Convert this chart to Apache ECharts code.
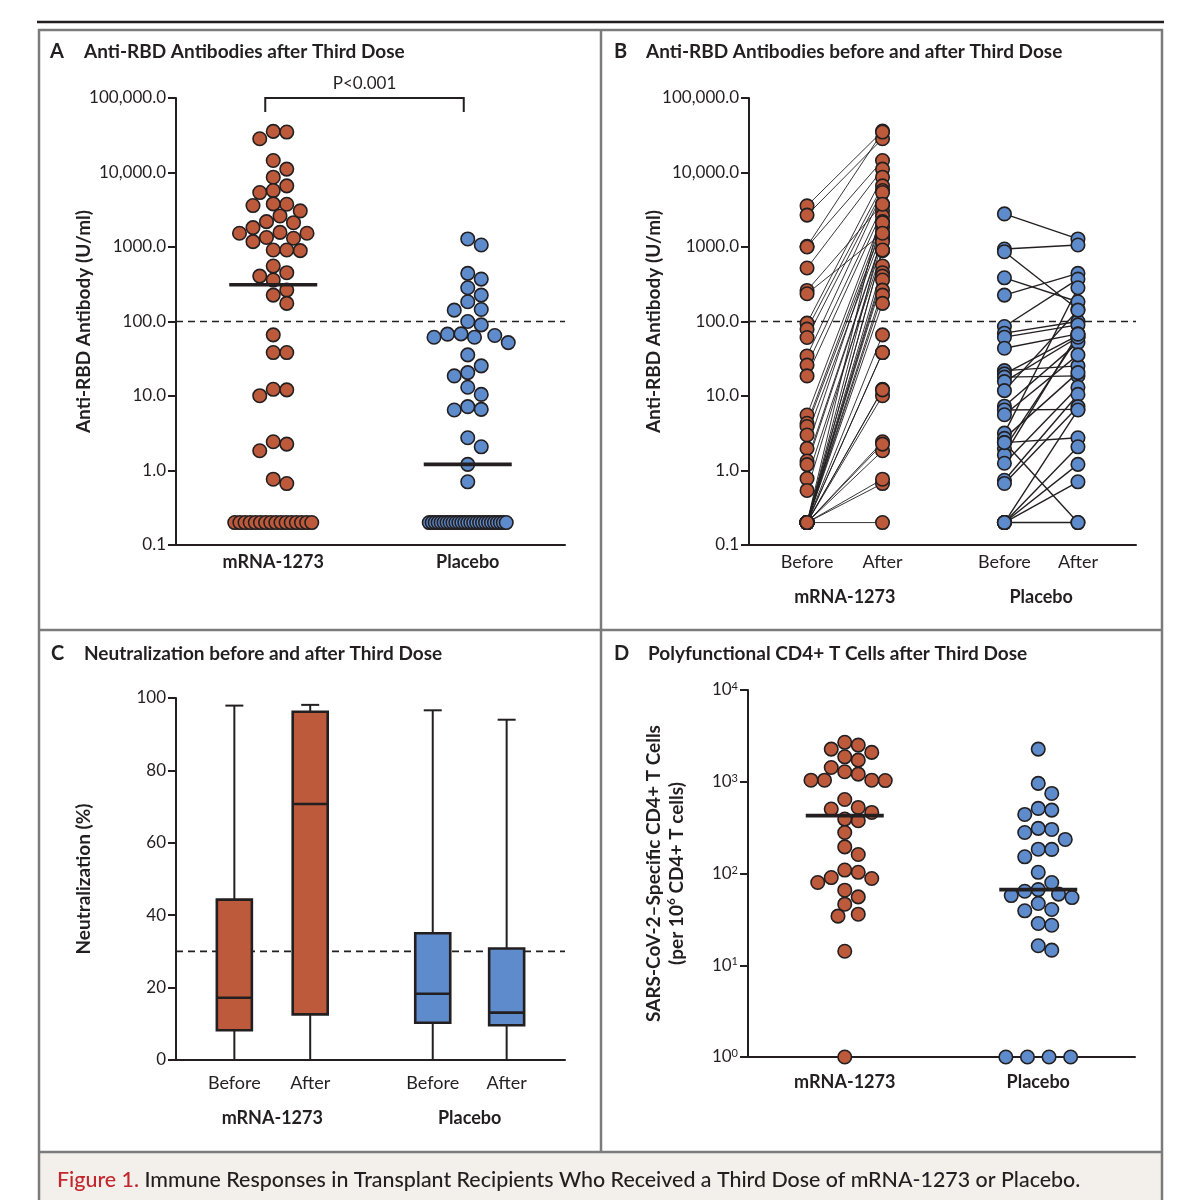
<!DOCTYPE html>
<html><head><meta charset="utf-8">
<script src="https://cdn.jsdelivr.net/npm/echarts@6/dist/echarts.min.js"></script>
<style>html,body{margin:0;padding:0;background:#fff}#c{width:1184px;height:1200px}</style>
</head><body><div id="c"></div>
<script>
// ================= DATA =================
const groupLabels = ['mRNA-1273', 'Placebo'];
const phaseLabels = ['Before', 'After', 'Before', 'After'];
const abTickLabels = ['0.1', '1.0', '10.0', '100.0', '1000.0', '10,000.0', '100,000.0']; // 10^-1 .. 10^5
const abThreshold = 100;
const pValueText = 'P<0.001';

// Panel A: anti-RBD antibodies after third dose (U/ml)
const aMrna = [35600, 28400, 34900, 14500, 11100, 8650, 6620, 5380, 5720, 3750, 3050, 3600, 3790,
  2610, 2120, 1820, 2190, 1530, 1310, 1570, 1180, 1340, 1530, 912, 893, 912, 452, 360, 407, 555,
  264, 226, 175, 66.2, 38.3, 38.3, 12.3, 10.1, 12.1, 2.43, 1.84, 2.26, 0.668, 0.764,
  0.2, 0.2, 0.2, 0.2, 0.2, 0.2, 0.2, 0.2, 0.2, 0.2, 0.2, 0.2, 0.2, 0.2, 0.2, 0.2];
const aPlacebo = [1064, 1282, 371, 443, 284, 226, 184, 145, 142, 90, 100, 67.6, 61.5, 52.1, 61.5,
  64.9, 68.2, 35.6, 25.4, 18.6, 20.6, 10.5, 13.1, 7.19, 6.49, 6.62, 2.75, 2.08, 1.21, 0.705,
  0.2, 0.2, 0.2, 0.2, 0.2, 0.2, 0.2, 0.2, 0.2, 0.2, 0.2, 0.2, 0.2, 0.2, 0.2, 0.2, 0.2, 0.2,
  0.2, 0.2, 0.2, 0.2, 0.2, 0.2, 0.2, 0.2, 0.2];

// Panel B: paired before / after values (U/ml)
const bMrnaBefore = [3570, 2680, 1024, 1000, 522, 261, 236, 95, 79, 61, 34.5, 26, 18.6, 5.55, 4.3,
  3.9, 3.0, 1.98, 1.34, 1.2, 0.78, 0.54,
  0.2, 0.2, 0.2, 0.2, 0.2, 0.2, 0.2, 0.2, 0.2, 0.2, 0.2, 0.2, 0.2, 0.2, 0.2, 0.2, 0.2, 0.2, 0.2, 0.2, 0.2, 0.2, 0.2];
const bMrnaAfter = [35900, 28400, 34900, 14500, 11100, 3790, 1530, 8650, 6620, 5720, 5380, 3600, 3050,
  2610, 2190, 1820, 1570, 2120, 1340, 1310, 912, 1180,
  3750, 893, 1530, 912, 555, 452, 407, 360, 264, 226, 175, 66.2, 38.3, 38.3, 12.3, 10.1, 12.1,
  2.43, 1.84, 2.26, 0.668, 0.764, 0.2];
const bPlaceboBefore = [2780, 940, 865, 386, 226, 85.6, 69.7, 61.6, 43.8, 21.9, 19.8, 17.9, 15.6,
  11.8, 7.3, 6.5, 5.6, 3.17, 2.7, 2.37, 1.98, 1.62, 1.25, 0.74, 0.67, 2.37, 0.2, 0.2, 0.2, 0.2, 0.2];
const bPlaceboAfter = [1282, 1064, 145, 184, 443, 371, 100, 90, 68.2, 25.4, 64.9, 18.6, 61.5,
  142, 52.1, 6.62, 35.6, 284, 20.6, 2.75, 61.5, 67.6, 13.1, 10.5, 7.19, 0.2, 6.49, 2.08, 1.21, 0.705, 0.2];

// Panel C: neutralization (%) — [min, Q1, median, Q3, max]
const cMrnaBefore = [0, 8.2, 17.2, 44.3, 97.9];
const cMrnaAfter = [0, 12.6, 70.7, 96.2, 98.1];
const cPlaceboBefore = [0, 10.3, 18.3, 35.0, 96.6];
const cPlaceboAfter = [0, 9.6, 13.1, 30.8, 94.0];
const cThreshold = 30;

// Panel D: polyfunctional CD4+ T cells per 10^6 CD4+ T cells
const dMrna = [2510, 2090, 2690, 1870, 2270, 1720, 1430, 1210, 1040, 1030, 1040, 1040, 1285, 641,
  525, 463, 376, 392, 504, 280, 195, 161, 103, 79.8, 88.2, 90.3, 109, 55.6, 65.8, 46.3, 34.3, 36, 14.2, 1];
const dPlacebo = [2270, 960, 746, 512, 440, 491, 310, 280, 302, 235, 184, 152, 183, 103, 79.8, 64.1,
  66.8, 57.5, 47.1, 54.7, 59.6, 39.2, 40.5, 27.3, 28.5, 14.6, 16.3, 1, 1, 1, 1];

// ================= LAYOUT / STYLE =================
const FONT = 'Lato, "Open Sans", sans-serif';
const INK = '#231f20';
const RED = '#bd5a3c';
const BLUE = '#5e8bcb';
const FRAME = '#7b7b7b';
const DOT = 13.5;
const G = {
  A: {left: 176, top: 98, width: 389, height: 447},
  B: {left: 749, top: 98, width: 387, height: 447},
  C: {left: 176, top: 698, width: 389, height: 362},
  D: {left: 748, top: 690, width: 387, height: 367}
};
const groupPos = [2.5, 7.5];
const phasePos = [1.5, 3.45, 6.6, 8.5];
const groupMid = [(phasePos[0] + phasePos[1]) / 2, (phasePos[2] + phasePos[3]) / 2];

function median(arr) {
  const s = arr.slice().sort((a, b) => a - b);
  const n = s.length;
  return n % 2 ? s[(n - 1) / 2] : (s[n / 2 - 1] + s[n / 2]) / 2;
}
function nearestIdx(list, v) {
  let best = 0;
  list.forEach((x, i) => { if (Math.abs(x - v) < Math.abs(list[best] - v)) best = i; });
  return best;
}
function logPx(v, lo, hi, h) {
  return (Math.log10(hi) - Math.log10(v)) / (Math.log10(hi) - Math.log10(lo)) * h;
}
// simple beeswarm: returns [x, value] pairs
function swarm(values, center, lo, hi, g, spreadPx) {
  const ppu = g.width / 10, d = DOT;
  const minV = Math.min.apply(null, values);
  const nMin = values.filter(v => v === minV).length;
  const off = new Array(values.length).fill(0);
  const placed = [];
  const order = values.map((v, i) => i).sort((a, b) => (values[b] - values[a]) || (a - b));
  let k0 = 0;
  order.forEach(i => {
    const v = values[i];
    const y = logPx(v, lo, hi, g.height);
    if (v === minV && nMin >= 2) {
      const s = Math.min(1.6 * d, spreadPx / (nMin - 1));
      off[i] = (k0 - (nMin - 1) / 2) * s; k0++;
      placed.push({x: off[i], y});
      return;
    }
    for (let k = 0; k < 80; k++) {
      const cand = k === 0 ? 0 : (k % 2 ? 1 : -1) * Math.ceil(k / 2) * d / 2;
      if (placed.every(p => Math.hypot(p.x - cand, p.y - y) >= d * 0.98)) {
        off[i] = cand; placed.push({x: cand, y}); break;
      }
    }
  });
  return values.map((v, i) => [center + off[i] / ppu, v]);
}

const axisLine = {show: true, onZero: false, lineStyle: {color: INK, width: 2}};
const tickStyle = {show: true, length: 8, lineStyle: {color: INK, width: 2}};
function xAx(grid, values, labels, extra, labelExtra) {
  return Object.assign({
    gridIndex: grid, type: 'value', min: 0, max: 10, position: 'bottom',
    axisLine: axisLine, axisTick: {show: false}, splitLine: {show: false},
    axisLabel: Object.assign({customValues: values, formatter: v => labels[nearestIdx(values, v)],
      color: INK, fontFamily: FONT, fontSize: 18, margin: 8}, labelExtra || {})
  }, extra || {});
}
const NAME_STYLE = {color: INK, fontFamily: FONT, fontSize: 19, fontWeight: 'bold'};
function yAx(grid, extra) {
  return Object.assign({
    gridIndex: grid, position: 'left', axisLine: axisLine, axisTick: tickStyle, splitLine: {show: false},
    minorTick: {show: false}, nameLocation: 'middle', nameRotate: 90, nameMoveOverlap: false,
    nameTextStyle: NAME_STYLE
  }, extra);
}
const abLabel = {color: INK, fontFamily: FONT, fontSize: 17, margin: 10,
  formatter: v => abTickLabels[Math.round(Math.log10(v)) + 1]};

function hline(xi, yi, value) {
  return {type: 'custom', xAxisIndex: xi, yAxisIndex: yi, z: 1, silent: true, clip: false,
    data: [[0, value]], encode: {x: 0, y: 1},
    renderItem: (params, api) => {
      const cs = params.coordSys;
      const y = api.coord([0, api.value(1)])[1];
      return {type: 'line', shape: {x1: cs.x, y1: y, x2: cs.x + cs.width, y2: y},
        style: {stroke: INK, lineWidth: 1.7, lineDash: [7, 5]}};
    }};
}
function medianLine(xi, yi, center, values, halfPx) {
  return {type: 'custom', xAxisIndex: xi, yAxisIndex: yi, z: 5, silent: true, clip: false,
    data: [[center, median(values)]], encode: {x: 0, y: 1},
    renderItem: (params, api) => {
      const p = api.coord([api.value(0), api.value(1)]);
      return {type: 'line', shape: {x1: p[0] - halfPx, y1: p[1], x2: p[0] + halfPx, y2: p[1]},
        style: {stroke: INK, lineWidth: 3.6}};
    }};
}
function dots(xi, yi, data, color) {
  return {type: 'scatter', xAxisIndex: xi, yAxisIndex: yi, z: 4, silent: true, clip: false,
    symbol: 'circle', symbolSize: DOT, data: data,
    itemStyle: {color: color, borderColor: INK, borderWidth: 1.6, opacity: 1}};
}
function pairLines(before, after, p0, p1, width) {
  return {type: 'custom', xAxisIndex: 1, yAxisIndex: 1, z: 3, silent: true, clip: false,
    data: before.map((v, i) => [v, after[i], p0, p1]), encode: {x: [2, 3], y: [0, 1]},
    renderItem: (params, api) => {
      const a = api.coord([api.value(2), api.value(0)]);
      const b = api.coord([api.value(3), api.value(1)]);
      return {type: 'line', shape: {x1: a[0], y1: a[1], x2: b[0], y2: b[1]},
        style: {stroke: INK, lineWidth: width}};
    }};
}
function boxes(stats, positions, color) {
  return {type: 'custom', xAxisIndex: 3, yAxisIndex: 2, z: 4, silent: true, clip: false,
    data: stats.map((s, i) => [positions[i]].concat(s)), encode: {x: 0, y: [1, 2, 3, 4, 5]},
    renderItem: (params, api) => {
      const x = api.value(0);
      const P = k => api.coord([x, api.value(k)]);
      const pMin = P(1), pQ1 = P(2), pMed = P(3), pQ3 = P(4), pMax = P(5);
      const cx = pMin[0], bw = 35, cw = 18;
      const ls = {stroke: INK, lineWidth: 2};
      return {type: 'group', children: [
        {type: 'line', shape: {x1: cx, y1: pMin[1], x2: cx, y2: pQ1[1]}, style: ls},
        {type: 'line', shape: {x1: cx, y1: pQ3[1], x2: cx, y2: pMax[1]}, style: ls},
        {type: 'line', shape: {x1: cx - cw / 2, y1: pMax[1], x2: cx + cw / 2, y2: pMax[1]}, style: ls},
        {type: 'rect', shape: {x: cx - bw / 2, y: pQ3[1], width: bw, height: pQ1[1] - pQ3[1]},
          style: {fill: color, stroke: INK, lineWidth: 2.6}},
        {type: 'line', shape: {x1: cx - bw / 2, y1: pMed[1], x2: cx + bw / 2, y2: pMed[1]},
          style: {stroke: INK, lineWidth: 2.6}}
      ]};
    }};
}
const bracket = {type: 'custom', xAxisIndex: 0, yAxisIndex: 0, z: 5, silent: true, clip: false,
  data: [[groupPos[0], groupPos[1], 100000]], encode: {x: [0, 1], y: 2},
  renderItem: (params, api) => {
    const a = api.coord([api.value(0), api.value(2)]);
    const b = api.coord([api.value(1), api.value(2)]);
    const x1 = a[0] - 8, x2 = b[0] - 4, y = a[1], drop = 14;
    return {type: 'group', children: [
      {type: 'polyline', shape: {points: [[x1, y + drop], [x1, y], [x2, y], [x2, y + drop]]},
        style: {stroke: INK, lineWidth: 2, fill: null}},
      {type: 'text', style: {text: pValueText, x: (x1 + x2) / 2, y: y - 6, align: 'center',
        verticalAlign: 'bottom', fontSize: 17, fontFamily: FONT, fill: INK}}
    ]};
  }};

const supRich = {s: {fontSize: 11, verticalAlign: 'top', lineHeight: 11, color: INK, fontFamily: FONT}};
const boldLab = {fontWeight: 'bold'};

const option = {
  animation: false,
  backgroundColor: '#ffffff',
  textStyle: {fontFamily: FONT},
  grid: [G.A, G.B, G.C, G.D],
  xAxis: [
    xAx(0, groupPos, groupLabels, null, boldLab),
    xAx(1, phasePos, phaseLabels),
    xAx(1, groupMid, groupLabels, {axisLine: {show: false}, offset: 35}, boldLab),
    xAx(2, phasePos, phaseLabels, null, {margin: 14}),
    xAx(2, groupMid, groupLabels, {axisLine: {show: false}, offset: 35}, {fontWeight: 'bold', margin: 14}),
    xAx(3, groupPos, groupLabels, null, {fontWeight: 'bold', margin: 16})
  ],
  yAxis: [
    yAx(0, {type: 'log', logBase: 10, min: 0.1, max: 100000, axisLabel: abLabel,
      name: 'Anti-RBD Antibody (U/ml)', nameGap: 83}),
    yAx(1, {type: 'log', logBase: 10, min: 0.1, max: 100000, axisLabel: abLabel,
      name: 'Anti-RBD Antibody (U/ml)', nameGap: 86}),
    yAx(2, {type: 'value', min: 0, max: 100, interval: 20,
      axisLabel: {color: INK, fontFamily: FONT, fontSize: 17, margin: 10},
      name: 'Neutralization (%)', nameGap: 83}),
    yAx(3, {type: 'log', logBase: 10, min: 1, max: 10000,
      axisLabel: {color: INK, fontFamily: FONT, fontSize: 17, margin: 10, lineHeight: 18,
        formatter: v => '10{s|' + Math.round(Math.log10(v)) + '}', rich: supRich},
      name: 'SARS-CoV-2\u2013Specific CD4+ T Cells\n(per 10{s|6} CD4+ T cells)', nameGap: 60,
      nameTextStyle: {color: INK, fontFamily: FONT, fontSize: 19, fontWeight: 'bold', lineHeight: 23,
        rich: {s: {fontSize: 12, fontWeight: 'bold', verticalAlign: 'top', lineHeight: 12, color: INK, fontFamily: FONT}}}})
  ],
  series: [
    // Panel A
    hline(0, 0, abThreshold),
    bracket,
    dots(0, 0, swarm(aMrna, groupPos[0], 0.1, 100000, G.A, 77), RED),
    dots(0, 0, swarm(aPlacebo, groupPos[1], 0.1, 100000, G.A, 77), BLUE),
    medianLine(0, 0, groupPos[0], aMrna, 44),
    medianLine(0, 0, groupPos[1], aPlacebo, 44),
    // Panel B
    hline(1, 1, abThreshold),
    pairLines(bMrnaBefore, bMrnaAfter, phasePos[0], phasePos[1], 0.9),
    pairLines(bPlaceboBefore, bPlaceboAfter, phasePos[2], phasePos[3], 1.4),
    dots(1, 1, bMrnaBefore.map(v => [phasePos[0], v]), RED),
    dots(1, 1, bMrnaAfter.map(v => [phasePos[1], v]), RED),
    dots(1, 1, bPlaceboBefore.map(v => [phasePos[2], v]), BLUE),
    dots(1, 1, bPlaceboAfter.map(v => [phasePos[3], v]), BLUE),
    // Panel C
    hline(3, 2, cThreshold),
    boxes([cMrnaBefore, cMrnaAfter], [phasePos[0], phasePos[1]], RED),
    boxes([cPlaceboBefore, cPlaceboAfter], [phasePos[2], phasePos[3]], BLUE),
    // Panel D
    dots(5, 3, swarm(dMrna, groupPos[0], 1, 10000, G.D, 77), RED),
    dots(5, 3, swarm(dPlacebo, groupPos[1], 1, 10000, G.D, 77), BLUE),
    medianLine(5, 3, groupPos[0], dMrna, 39),
    medianLine(5, 3, groupPos[1], dPlacebo, 39)
  ],
  graphic: [
    {type: 'rect', shape: {x: 39, y: 1152, width: 1123, height: 48}, style: {fill: '#f3efea'}, z: -10},
    {type: 'line', shape: {x1: 37, y1: 22, x2: 1164, y2: 22}, style: {stroke: INK, lineWidth: 2.5}},
    {type: 'polyline', shape: {points: [[39, 1200], [39, 30], [1162, 30], [1162, 1200]]},
      style: {stroke: FRAME, lineWidth: 2.5, fill: null}},
    {type: 'line', shape: {x1: 39, y1: 630, x2: 1162, y2: 630}, style: {stroke: FRAME, lineWidth: 2.5}},
    {type: 'line', shape: {x1: 601, y1: 30, x2: 601, y2: 1152}, style: {stroke: FRAME, lineWidth: 2.5}},
    {type: 'line', shape: {x1: 39, y1: 1152, x2: 1162, y2: 1152}, style: {stroke: FRAME, lineWidth: 2.5}},
    {type: 'text', x: 50, y: 52, style: {text: 'A', fontSize: 20, fontWeight: 'bold', fontFamily: FONT, fill: INK, verticalAlign: 'middle'}},
    {type: 'text', x: 84, y: 52, style: {text: 'Anti-RBD Antibodies after Third Dose', fontSize: 19, fontWeight: 'bold', fontFamily: FONT, fill: INK, verticalAlign: 'middle'}},
    {type: 'text', x: 614, y: 52, style: {text: 'B', fontSize: 20, fontWeight: 'bold', fontFamily: FONT, fill: INK, verticalAlign: 'middle'}},
    {type: 'text', x: 646, y: 52, style: {text: 'Anti-RBD Antibodies before and after Third Dose', fontSize: 19, fontWeight: 'bold', fontFamily: FONT, fill: INK, verticalAlign: 'middle'}},
    {type: 'text', x: 51, y: 654, style: {text: 'C', fontSize: 20, fontWeight: 'bold', fontFamily: FONT, fill: INK, verticalAlign: 'middle'}},
    {type: 'text', x: 84, y: 654, style: {text: 'Neutralization before and after Third Dose', fontSize: 19, fontWeight: 'bold', fontFamily: FONT, fill: INK, verticalAlign: 'middle'}},
    {type: 'text', x: 614, y: 654, style: {text: 'D', fontSize: 20, fontWeight: 'bold', fontFamily: FONT, fill: INK, verticalAlign: 'middle'}},
    {type: 'text', x: 648, y: 654, style: {text: 'Polyfunctional CD4+ T Cells after Third Dose', fontSize: 19, fontWeight: 'bold', fontFamily: FONT, fill: INK, verticalAlign: 'middle'}},
    {type: 'text', x: 57, y: 1180, style: {
      text: '{r|Figure 1.} Immune Responses in Transplant Recipients Who Received a Third Dose of mRNA-1273 or Placebo.',
      fontSize: 21.4, fontWeight: 500, fontFamily: FONT, fill: INK, verticalAlign: 'middle',
      rich: {r: {fill: '#c1272d', color: '#c1272d', fontSize: 21.4, fontWeight: 500, fontFamily: FONT}}}}
  ]
};
const chart = echarts.init(document.getElementById('c'));
chart.setOption(option);
</script>
</body></html>
